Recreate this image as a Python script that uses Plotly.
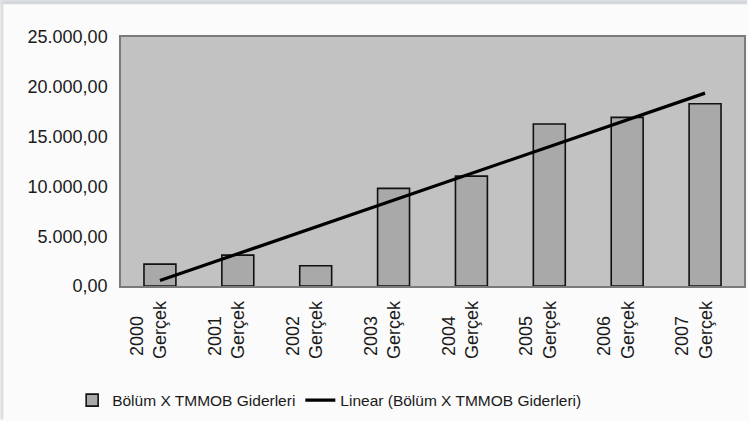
import numpy as np
import plotly.graph_objects as go

years = ["2000", "2001", "2002", "2003", "2004", "2005", "2006", "2007"]
label_suffix = "Gerçek"
giderler = [2200, 3100, 2030, 9800, 11030, 16270, 16930, 18300]
y_ticks = [0, 5000, 10000, 15000, 20000, 25000]
series_name = "Bölüm X TMMOB Giderleri"
trend_name = "Linear (Bölüm X TMMOB Giderleri)"

# year line padded so both lines of the rotated label end at the same baseline
categories = [f"{y}\u00a0\u00a0\u00a0<br>{label_suffix}" for y in years]

# linear trendline (least squares over category index, as Excel does)
idx = np.arange(1, len(giderler) + 1)
slope, intercept = np.polyfit(idx, giderler, 1)
trend = slope * idx + intercept

W, H = 749, 421
ml, mr, mt, mb = 121, 3, 37, 134
pw, ph = W - ml - mr, H - mt - mb

font_family = "Liberation Sans, Arial, sans-serif"

fig = go.Figure()
fig.add_trace(go.Bar(
    x=categories, y=giderler, name=series_name,
    marker=dict(color="#a9a9a9", line=dict(color="#111111", width=1.6)),
))
fig.add_trace(go.Scatter(
    x=categories, y=trend, name=trend_name, mode="lines",
    line=dict(color="#000000", width=3.2),
))


def px_x(p):
    return (p - ml) / pw


def px_y(p):
    return (H - mb - p) / ph


shapes = [
    # outer frame stripes of the original screenshot
    dict(type="rect", xref="paper", yref="paper", x0=px_x(0), x1=px_x(W), y0=px_y(4), y1=px_y(0),
         fillcolor="#d3d7db", line=dict(width=0), layer="below"),
    dict(type="rect", xref="paper", yref="paper", x0=px_x(0), x1=px_x(3), y0=px_y(H), y1=px_y(0),
         fillcolor="#dcdfe2", line=dict(width=0), layer="below"),
]

fig.update_layout(
    width=W, height=H,
    margin=dict(l=ml, r=mr, t=mt, b=mb),
    paper_bgcolor="#fbfbfb",
    plot_bgcolor="#c2c2c2",
    separators=",.",
    bargap=0.59,
    font=dict(family=font_family, color="#1a1a1a"),
    showlegend=True,
    legend=dict(
        orientation="h", x=px_x(72), xanchor="left", y=px_y(402), yanchor="middle",
        font=dict(size=15.5, family=font_family, color="#1a1a1a"),
        bgcolor="rgba(0,0,0,0)",
    ),
    shapes=shapes,
    xaxis=dict(
        type="category", tickangle=-90, showgrid=False, zeroline=False,
        showline=True, linecolor="#7a7a7a", linewidth=1.5, mirror=True,
        tickfont=dict(size=18, family=font_family, color="#1a1a1a"),
        ticks="outside", ticklen=6, tickcolor="rgba(0,0,0,0)",
        ticklabelshift=-11,
    ),
    yaxis=dict(
        range=[0, 25000], tickvals=y_ticks, tickformat=",.2f",
        showgrid=False, zeroline=False,
        showline=True, linecolor="#7a7a7a", linewidth=1.5, mirror=True,
        tickfont=dict(size=18, family=font_family, color="#1a1a1a"),
        ticks="outside", ticklen=8, tickcolor="rgba(0,0,0,0)",
    ),
)

fig.write_html("out.html", config={"displayModeBar": False},
               post_script="document.body.style.margin='0';")
